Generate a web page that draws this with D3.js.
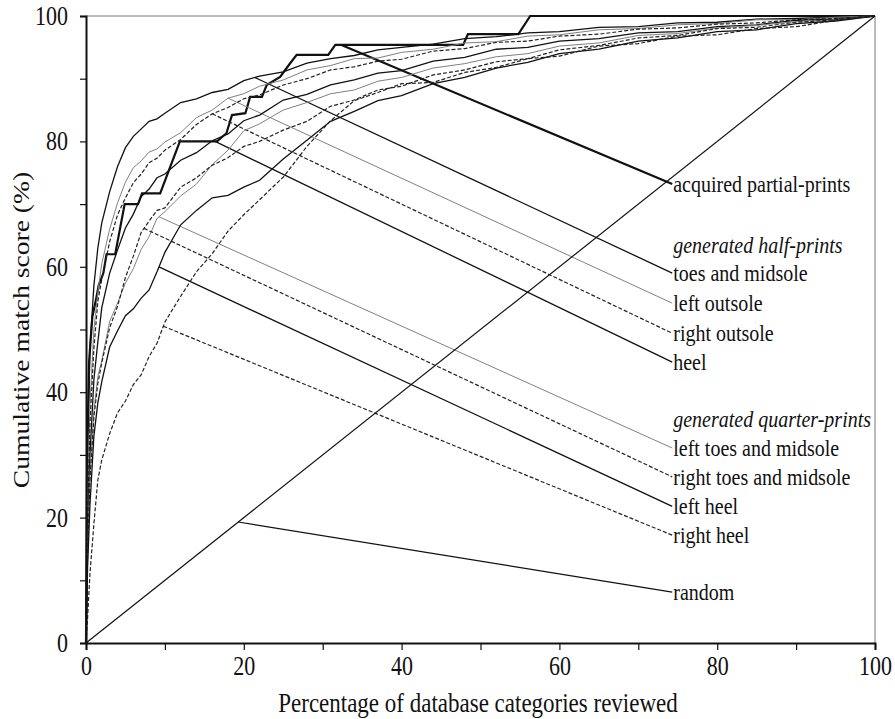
<!DOCTYPE html>
<html>
<head>
<meta charset="utf-8">
<title>Cumulative match score</title>
<script src="https://cdn.jsdelivr.net/npm/d3@7"></script>
<style>
  body { margin: 0; background: #fff; }
  svg text { font-family: "Liberation Serif", "Times New Roman", serif; fill: #111; }
</style>
</head>
<body>
<svg id="chart" width="895" height="719"></svg>
<script>
// common x positions (percentage of categories reviewed)
const xs = [0, 0.2, 0.5, 1, 1.5, 2, 3, 4, 5, 6, 7, 8, 9, 10, 12, 14, 16, 18, 20, 22, 25, 28, 31, 34, 37, 40, 44, 48, 52, 56, 60, 65, 70, 75, 80, 85, 90, 95, 100];

// generated half-prints
const toesMidsole  = [0, 30, 47, 57, 63, 67, 72, 76, 79, 80.8, 82, 83.2, 83.6, 84.5, 86.2, 86.8, 87.8, 88.3, 89.7, 90.4, 91.1, 92.5, 93.2, 93.7, 94.6, 95, 95.5, 96.4, 96.7, 97.3, 97.5, 98.2, 98.3, 98.9, 99, 99.5, 99.6, 99.8, 100];
const leftOutsole  = [0, 22, 38, 50, 56, 60.5, 66, 70.2, 73.5, 75.8, 76.9, 78.3, 78.8, 79.9, 81.4, 83.8, 85, 86.9, 87.6, 88.8, 89.8, 91.4, 92.1, 93.2, 93.3, 94.2, 94.7, 95.7, 95.9, 96.8, 97, 97.8, 98, 98.6, 98.8, 99.4, 99.4, 99.8, 100];
const rightOutsole = [0, 20, 35, 47, 54.5, 58, 64, 68.3, 71, 73.4, 74.8, 76.6, 77.3, 78.6, 80.3, 82.7, 84.4, 85.4, 86.8, 87.4, 89, 90, 91.4, 91.9, 92.8, 93.1, 94.4, 94.8, 95.8, 96, 96.8, 97.1, 97.9, 98.1, 98.7, 98.9, 99.4, 99.6, 100];
const heel         = [0, 18, 30, 42, 48, 53.5, 59, 62.7, 66.2, 68.4, 71.2, 72.4, 74.2, 74.8, 77, 78.2, 80.1, 81.2, 83.3, 84.2, 86.6, 87.5, 89, 89.8, 90.9, 91.3, 92.8, 93.4, 94.7, 95, 96, 96.4, 97.3, 97.5, 98.3, 98.6, 99.3, 99.5, 100];

// generated quarter-prints
const leftToes  = [0, 15, 27, 37, 42.5, 45, 51.3, 54.2, 57.4, 59.7, 62.8, 64.8, 67.7, 68.8, 71.3, 73.2, 76.3, 78.6, 81.7, 82.8, 85, 86.2, 87.6, 88.2, 89.6, 90.2, 91.7, 92.4, 93.5, 94, 95.2, 95.7, 96.9, 97.2, 98.1, 98.5, 99.1, 99.4, 100];
const rightToes = [0, 14, 26, 36, 41.4, 44.7, 50.3, 53.7, 58.3, 61.7, 65.5, 67.3, 69, 69.4, 72.7, 74.2, 76.2, 77.4, 79.2, 80, 81.8, 83.2, 85.6, 86.6, 88.2, 88.8, 90.6, 91.4, 92.7, 93.2, 94.6, 95.3, 96.5, 96.9, 98, 98.2, 99, 99.4, 100];
const leftHeel  = [0, 12, 22, 33, 38.3, 41.7, 47.2, 49.8, 52.2, 53.3, 55, 56.3, 59.2, 62.3, 66.7, 69, 71, 71.4, 72.7, 73.8, 77.2, 80.2, 83.2, 84.8, 86.5, 87.3, 89.2, 90.2, 91.7, 92.6, 94, 94.7, 96, 96.5, 97.5, 97.8, 98.8, 99.2, 100];
const rightHeel = [0, 4, 11, 19, 26, 29.2, 33.4, 36.7, 38.6, 41.2, 42.8, 45.7, 47.8, 51.2, 55.3, 59.2, 62.1, 65.7, 68.3, 70.7, 74.3, 79.2, 83.3, 86.5, 87.8, 89.2, 89.4, 91, 91.8, 93.2, 93.6, 95.2, 95.6, 96.8, 97, 98, 98.3, 99.3, 100];

// acquired partial-prints (step curve)
const acquiredX = [0, 0.15, 0.4, 0.8, 1.3, 1.6, 2.2, 2.6, 3.7, 4.9, 6.6, 7.1, 9.4, 11.9, 16.6, 17.8, 18.5, 20.2, 20.8, 22.3, 22.9, 24.6, 25.9, 26.7, 30.7, 31.6, 47.8, 48.4, 54.8, 56.3, 100];
const acquiredY = [0, 30, 45, 52, 55, 57, 59, 62, 62, 70, 70, 71.7, 71.7, 80, 80, 81.3, 84.2, 84.5, 87.1, 87.1, 89, 90.3, 92.5, 93.8, 93.8, 95.4, 95.4, 97.1, 97.1, 100, 100];

// random selection
const randomX = [0, 100];
const randomY = [0, 100];

// labels: name, where the leader leaves the curve (x), where the label sits (score)
const labelNames  = ["acquired partial-prints", "toes and midsole", "left outsole", "right outsole", "heel",
                     "left toes and midsole", "right toes and midsole", "left heel", "right heel", "random"];
const leaderFromX = [32.3, 21.4, 18, 16, 16.1, 9.25, 7.35, 9.25, 9.8, 19.3];
const labelScore  = [73.2, 59.0, 54.2, 49.4, 44.8, 31.1, 26.5, 21.8, 17.2, 8.1];
const groupNames  = ["generated half-prints", "generated quarter-prints"];
const groupScore  = [63.5, 35.6];

const xTicks = d3.range(0, 101, 10);
const yTicks = d3.range(0, 101, 10);

const svg = d3.select("#chart");
const x = d3.scaleLinear().domain([0, 100]).range([86, 875]);
const y = d3.scaleLinear().domain([0, 100]).range([643, 16]);
const stretch = 1.2;

// styles per series
const styles = [
  { w: 2.2, c: "#111", dash: null },      // acquired
  { w: 1.3, c: "#111", dash: null },      // toes and midsole
  { w: 1, c: "#808080", dash: null },     // left outsole
  { w: 1.2, c: "#222", dash: "4,2" },     // right outsole
  { w: 1.3, c: "#111", dash: null },      // heel
  { w: 1, c: "#808080", dash: null },     // left toes
  { w: 1.2, c: "#222", dash: "4,2" },     // right toes
  { w: 1.3, c: "#111", dash: null },      // left heel
  { w: 1.2, c: "#222", dash: "4,2" },     // right heel
  { w: 1.2, c: "#111", dash: null }       // random
];

const series = [
  acquiredX.map((v, i) => [v, acquiredY[i]]),
  ...[toesMidsole, leftOutsole, rightOutsole, heel, leftToes, rightToes, leftHeel, rightHeel]
    .map(arr => xs.map((v, i) => [v, arr[i]])),
  randomX.map((v, i) => [v, randomY[i]])
];

// frame
svg.append("line").attr("x1", x(0)).attr("x2", x(100)).attr("y1", y(100)).attr("y2", y(100))
  .attr("stroke", "#777").attr("stroke-width", 1);
svg.append("line").attr("x1", x(100)).attr("x2", x(100)).attr("y1", y(100)).attr("y2", y(0))
  .attr("stroke", "#777").attr("stroke-width", 1);

const line = d3.line().x(d => x(d[0])).y(d => y(d[1]));

// value on a curve at a given x
function valueAt(pts, xv) {
  for (let i = 1; i < pts.length; i++) {
    if (pts[i][0] >= xv) {
      const a = pts[i - 1], b = pts[i];
      if (b[0] === a[0]) return b[1];
      return a[1] + (b[1] - a[1]) * (xv - a[0]) / (b[0] - a[0]);
    }
  }
  return pts[pts.length - 1][1];
}

const labelX = 74.3;
const g = svg.append("g");

series.forEach((pts, i) => {
  const st = styles[i];
  g.append("path").attr("d", line(pts)).attr("fill", "none")
    .attr("stroke", st.c).attr("stroke-width", st.w)
    .attr("stroke-dasharray", st.dash);
  // leader line
  const fx = leaderFromX[i];
  g.append("line")
    .attr("x1", x(fx)).attr("y1", y(valueAt(pts, fx)))
    .attr("x2", x(labelX)).attr("y2", y(labelScore[i]))
    .attr("stroke", st.c).attr("stroke-width", st.w)
    .attr("stroke-dasharray", st.dash);
  svg.append("text")
    .attr("transform", `translate(${x(labelX) + 1},${y(labelScore[i])}) scale(1,${stretch})`)
    .attr("dy", "0.32em").attr("font-size", 20)
    .text(labelNames[i]);
});

groupNames.forEach((name, i) => {
  svg.append("text")
    .attr("transform", `translate(${x(labelX) + 1},${y(groupScore[i])}) scale(1,${stretch})`)
    .attr("dy", "0.32em").attr("font-size", 20).attr("font-style", "italic")
    .text(name);
});

// axes
const yAxis = svg.append("g").attr("transform", `translate(${x(0)},0)`)
  .call(d3.axisLeft(y).tickValues(yTicks).tickSize(6).tickPadding(12)
    .tickFormat(d => d % 20 === 0 ? d : ""));
const xAxis = svg.append("g").attr("transform", `translate(0,${y(0)})`)
  .call(d3.axisBottom(x).tickValues(xTicks).tickSize(7).tickPadding(4)
    .tickFormat(d => d % 20 === 0 ? d : ""));

[xAxis, yAxis].forEach(ax => {
  ax.select(".domain").attr("stroke", "#111").attr("stroke-width", 2);
  ax.selectAll(".tick line").attr("stroke", "#111").attr("stroke-width", 1.2);
  ax.selectAll("text").attr("font-size", 22)
    .attr("font-family", "Liberation Serif").attr("fill", "#111");
});
yAxis.selectAll("text").attr("transform", `scale(1,${stretch})`);
xAxis.selectAll("text").attr("transform", `scale(1,${stretch})`);

// axis titles
svg.append("text")
  .attr("transform", `translate(478,703) scale(1,${stretch})`)
  .attr("text-anchor", "middle").attr("dy", "0.32em").attr("font-size", 23)
  .text("Percentage of database categories reviewed");
svg.append("text")
  .attr("transform", `translate(22,330) rotate(-90) scale(${stretch},1)`)
  .attr("text-anchor", "middle").attr("dy", "0.32em").attr("font-size", 23)
  .text("Cumulative match score (%)");
</script>
</body>
</html>
